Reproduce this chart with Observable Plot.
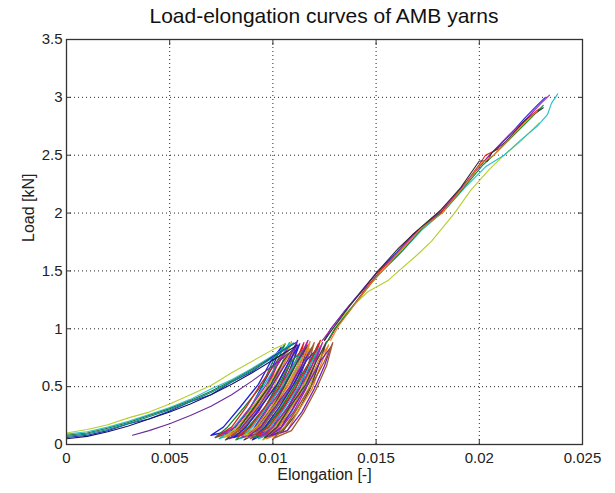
<!DOCTYPE html>
<html><head><meta charset="utf-8">
<script src="https://cdn.jsdelivr.net/npm/d3@7"></script>
<script src="https://cdn.jsdelivr.net/npm/@observablehq/plot@0.6"></script>
<style>
body{margin:0;background:#fff;font-family:"Liberation Sans",Arial,sans-serif;}
#title{height:30px;line-height:31px;margin-left:66px;width:516px;text-align:center;font-size:21px;color:#111;}
#chart svg{display:block;}
</style></head><body>
<div id="title">Load-elongation curves of AMB yarns</div>
<div id="chart"></div>
<script>
const titleText = "Load-elongation curves of AMB yarns";
const xLabel = "Elongation [-]";
const yLabel = "Load [kN]";
const xTicks = [0, 0.005, 0.01, 0.015, 0.02, 0.025];
const xTickLabels = ["0", "0.005", "0.01", "0.015", "0.02", "0.025"];
const yTicks = [0, 0.5, 1, 1.5, 2, 2.5, 3, 3.5];
const yTickLabels = ["0", "0.5", "1", "1.5", "2", "2.5", "3", "3.5"];

// elongation values below are in units of 1e-4
const loadingColors = ["#b8cc30", "#30c0c8", "#1f7a3c", "#2a2ad0", "#151560", "#0a8a8a", "#6a2a9a"];
const loadingX = [
  [0, 10, 20, 30, 40, 50, 60, 70, 80, 90, 100, 106],
  [0, 10, 20, 30, 40, 50, 60, 70, 80, 90, 100, 110],
  [0, 10, 20, 30, 40, 50, 60, 70, 80, 90, 100, 110],
  [0, 10, 20, 30, 40, 50, 60, 70, 80, 90, 100, 111],
  [0, 10, 20, 30, 40, 50, 60, 70, 80, 90, 100, 112],
  [0, 10, 20, 30, 40, 50, 60, 70, 80, 90, 100, 110],
  [32, 40, 50, 60, 70, 80, 90, 100, 112]
];
const loadingY = [
  [0.10, 0.13, 0.17, 0.23, 0.28, 0.35, 0.43, 0.51, 0.62, 0.72, 0.82, 0.87],
  [0.09, 0.11, 0.15, 0.20, 0.26, 0.32, 0.39, 0.48, 0.56, 0.66, 0.77, 0.88],
  [0.08, 0.10, 0.14, 0.19, 0.25, 0.31, 0.38, 0.46, 0.55, 0.65, 0.76, 0.87],
  [0.06, 0.08, 0.12, 0.18, 0.22, 0.29, 0.37, 0.43, 0.54, 0.63, 0.76, 0.88],
  [0.05, 0.07, 0.11, 0.16, 0.22, 0.28, 0.35, 0.43, 0.52, 0.62, 0.73, 0.86],
  [0.07, 0.09, 0.13, 0.18, 0.24, 0.30, 0.37, 0.45, 0.54, 0.64, 0.75, 0.87],
  [0.08, 0.12, 0.18, 0.25, 0.33, 0.43, 0.55, 0.68, 0.85]
];

const loopColors = ["#2020e0", "#108a30", "#e02020", "#10b8c0", "#b020b0", "#b8b820", "#404040", "#f08020", "#7020c0", "#a05a2c"];
const loopPeakY = [0.84,0.87,0.82,0.88,0.85,0.89,0.83,0.86,0.90,0.84,0.87,0.81,0.88,0.85,0.90,0.83,0.86,0.89,0.84,0.88,0.82,0.87,0.90,0.85,0.88,0.83,0.89,0.86,0.84,0.88];
const loopBaseY = [0.08,0.06,0.07,0.05,0.09,0.06,0.04,0.07,0.05,0.08,0.06,0.04,0.07,0.05,0.06,0.08,0.04,0.06,0.07,0.05,0.04,0.06,0.08,0.05,0.07,0.04,0.06,0.05,0.07,0.05];
const loopUnloadMidY = [0.68, 0.48, 0.28, 0.12];
const loopReloadMidY = [0.15, 0.32, 0.52, 0.72];
const loopUnloadX = [
  [104,100,94,88,80,70], [106,101,97,89,82,72], [107,102,97,90,84,73], [108,104,98,91,84,74],
  [108,104,99,93,85,75], [109,105,100,92,86,76], [110,107,101,95,87,77], [111,107,103,95,88,78],
  [112,108,103,96,90,79], [112,109,104,98,90,80], [113,109,105,98,91,81], [114,110,105,99,93,82],
  [115,112,106,100,93,83], [116,112,108,100,94,84], [117,113,108,102,95,85], [118,114,109,102,97,86],
  [117,114,110,103,95,86], [118,115,110,104,97,87], [119,115,111,104,99,88], [120,117,112,106,99,89],
  [121,117,113,106,100,90], [122,118,114,107,101,91], [123,119,114,109,101,92], [123,120,115,109,103,93],
  [124,120,116,110,103,94], [125,122,117,111,104,95], [126,122,118,112,105,96], [127,123,119,112,107,97],
  [128,125,120,114,107,98], [129,126,121,115,109,100]
];
const loopReloadX = [
  [70,76,84,93,99,104], [72,78,86,95,100,106], [73,80,87,94,102,107], [74,81,89,96,103,108],
  [75,82,89,97,103,108], [76,83,90,98,105,109], [77,84,91,99,105,110], [78,85,92,100,106,111],
  [79,85,93,100,107,112], [80,86,94,102,108,112], [81,87,94,102,108,113], [82,88,96,103,109,114],
  [83,89,96,104,111,115], [84,90,97,105,111,116], [85,92,98,106,112,117], [86,92,99,107,113,118],
  [86,93,100,106,112,117], [87,93,100,108,114,118], [88,94,101,109,115,119], [89,95,102,110,116,120],
  [90,96,103,110,116,121], [91,97,104,111,118,122], [92,98,105,112,118,123], [93,99,106,113,119,123],
  [94,100,107,114,120,124], [95,101,108,115,121,125], [96,102,108,116,121,126], [97,103,109,117,122,127],
  [98,104,110,117,123,128], [100,106,112,119,125,129]
];

const finalColors = ["#b8cc30", "#20c0d0", "#2a2ad0", "#e02020", "#b020b0", "#108a30", "#303030", "#e08020"];
const finalX = [
  [123,128,136,146,156,161,170,177,188,196,205,212,220,229],
  [126,130,138,150,160,172,183,193,203,212,220,228,233,235,238],
  [125,128,135,143,151,160,168,181,190,199,205,214,222,228,232],
  [127,131,137,145,152,162,171,182,191,200,203,210,217,224,229],
  [124,129,137,144,150,159,169,180,189,198,206,214,222,230,234],
  [126,130,139,148,153,163,173,183,193,202,207,216,225,231],
  [125,129,136,145,151,161,170,181,191,200,204,206,213,222,231],
  [128,132,140,147,153,163,172,182,192,201,207,215,223,228]
];
const finalY = [
  [0.88,0.98,1.15,1.32,1.42,1.50,1.64,1.76,2.00,2.20,2.38,2.50,2.62,2.78],
  [0.88,1.00,1.18,1.45,1.62,1.85,2.02,2.22,2.40,2.50,2.63,2.75,2.85,2.95,3.03],
  [0.90,1.00,1.16,1.33,1.50,1.66,1.82,2.00,2.18,2.38,2.50,2.66,2.82,2.93,3.00],
  [0.90,1.02,1.15,1.35,1.50,1.68,1.86,2.02,2.20,2.42,2.50,2.56,2.70,2.83,2.90],
  [0.90,1.02,1.20,1.34,1.48,1.63,1.83,2.00,2.17,2.36,2.52,2.67,2.80,2.95,3.02],
  [0.88,1.00,1.20,1.40,1.50,1.68,1.88,2.02,2.23,2.42,2.50,2.66,2.82,2.93],
  [0.90,1.00,1.17,1.37,1.50,1.70,1.85,2.02,2.22,2.45,2.45,2.52,2.62,2.80,2.91],
  [0.90,1.03,1.22,1.38,1.50,1.70,1.87,2.00,2.22,2.43,2.50,2.65,2.80,2.88]
];

const E = 1e-4;
const rows = [];
const loopRows = [];
loadingX.forEach((xs, i) => xs.forEach((x, j) => rows.push({id: "load" + i, x: x * E, y: loadingY[i][j], color: loadingColors[i]})));
loopUnloadX.forEach((xs, i) => {
  const c = loopColors[i % loopColors.length];
  const uy = [loopPeakY[i], ...loopUnloadMidY, loopBaseY[i]];
  const ry = [loopBaseY[i], ...loopReloadMidY, loopPeakY[i]];
  xs.forEach((x, j) => loopRows.push({id: "loop" + i, x: x * E, y: uy[j], color: c}));
  loopReloadX[i].forEach((x, j) => loopRows.push({id: "loop" + i, x: x * E, y: ry[j], color: c}));
});
finalX.forEach((xs, i) => xs.forEach((x, j) => rows.push({id: "final" + i, x: x * E, y: finalY[i][j], color: finalColors[i]})));

const fmtX = d => xTickLabels[xTicks.indexOf(d)];
const fmtY = d => yTickLabels[yTicks.indexOf(d)];
const gridStyle = {stroke: "#000", strokeOpacity: 0.85, strokeDasharray: "1,3", strokeWidth: 1};
const tickStyle = {stroke: "#333", tickFormat: () => "", label: null, tickSize: 5};

const chart = Plot.plot({
  width: 615, height: 463,
  marginLeft: 66, marginRight: 33, marginTop: 9, marginBottom: 49,
  style: {fontFamily: "Liberation Sans, Arial, sans-serif", background: "#fff", color: "#222"},
  x: {domain: [0, 0.025]},
  y: {domain: [0, 3.5]},
  color: {type: "identity"},
  marks: [
    Plot.gridX(xTicks.slice(1, -1), gridStyle),
    Plot.gridY(yTicks.slice(1, -1), gridStyle),
    Plot.line(loopRows, {x: "x", y: "y", z: "id", stroke: "color", strokeWidth: 1.3}),
    Plot.line(rows, {x: "x", y: "y", z: "id", stroke: "color", strokeWidth: 1.1}),
    Plot.frame({stroke: "#333", strokeWidth: 1.3}),
    Plot.axisX(xTicks, {anchor: "bottom", tickSize: 0, tickPadding: 8, tickFormat: fmtX, fontSize: 15, label: null}),
    Plot.axisY(yTicks, {anchor: "left", tickSize: 0, tickPadding: 4, tickFormat: fmtY, fontSize: 15, label: null}),
    Plot.axisX(xTicks, {...tickStyle, anchor: "bottom", dy: -5}),
    Plot.axisX(xTicks, {...tickStyle, anchor: "top", dy: 5}),
    Plot.axisY(yTicks, {...tickStyle, anchor: "left", dx: 5}),
    Plot.axisY(yTicks, {...tickStyle, anchor: "right", dx: -5}),
    Plot.text([xLabel], {frameAnchor: "bottom", dy: 35, fontSize: 16, fill: "#222"}),
    Plot.text([yLabel], {frameAnchor: "left", dx: -38, rotate: -90, fontSize: 16, fill: "#222"})
  ]
});
document.getElementById("chart").appendChild(chart);
</script>
</body></html>
